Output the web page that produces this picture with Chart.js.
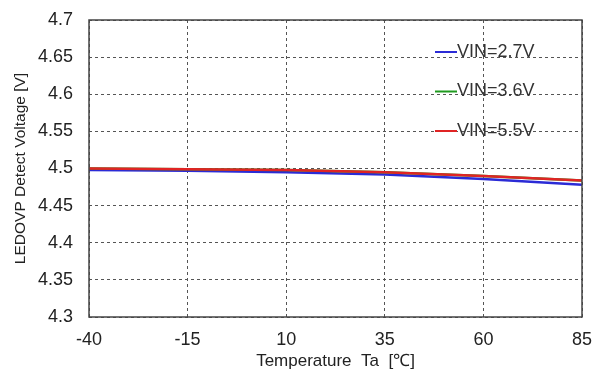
<!DOCTYPE html>
<html>
<head>
<meta charset="utf-8">
<script src="https://cdn.jsdelivr.net/npm/chart.js@4/dist/chart.umd.min.js"></script>
<style>
  html, body { margin: 0; padding: 0; background: #fff; }
  #wrap { width: 596px; height: 376px; }
</style>
</head>
<body>
<div id="wrap"><canvas id="chart"></canvas></div>
<script>
// temperature points (x) and detect voltage for each VIN
const temps = [-40, -15, 10, 35, 60, 85];
const vin27 = [4.498, 4.497, 4.495, 4.492, 4.486, 4.478];
const vin36 = [4.500, 4.499, 4.498, 4.495, 4.490, 4.484];
const vin55 = [4.500, 4.499, 4.498, 4.495, 4.490, 4.484];
const seriesLabels = ['VIN=2.7V', 'VIN=3.6V', 'VIN=5.5V'];
const seriesColors = ['#2b2bd6', '#1f9a1f', '#e02424'];

const FONT = 'Liberation Sans, Arial, sans-serif';

const toPoints = (vals) => temps.map((t, i) => ({ x: t, y: vals[i] }));

// box round the plot area
const frame = {
  id: 'frame',
  afterDatasetsDraw(chart) {
    const { ctx, chartArea: a } = chart;
    ctx.save();
    ctx.strokeStyle = '#444';
    ctx.lineWidth = 1.5;
    ctx.strokeRect(a.left, a.top, a.right - a.left, a.bottom - a.top);
    ctx.restore();
  }
};

// legend drawn inside the plot, top right
const innerLegend = {
  id: 'innerLegend',
  afterDraw(chart) {
    const { ctx, chartArea: a } = chart;
    ctx.save();
    ctx.font = '18px ' + FONT;
    ctx.textBaseline = 'middle';
    chart.data.datasets.forEach((ds, i) => {
      const y = a.top + 32 + i * 39.5;
      const x0 = a.right - 147;
      ctx.strokeStyle = ds.borderColor;
      ctx.lineWidth = 2;
      ctx.beginPath();
      ctx.moveTo(x0, y);
      ctx.lineTo(x0 + 22, y);
      ctx.stroke();
      ctx.fillStyle = '#333';
      ctx.fillText(ds.label, x0 + 22, y);
    });
    ctx.restore();
  }
};

const grid = {
  color: '#555',
  lineWidth: 1,
  drawTicks: false
};

new Chart(document.getElementById('chart'), {
  type: 'line',
  data: {
    datasets: [
      { label: seriesLabels[0], data: toPoints(vin27), borderColor: seriesColors[0], order: 3 },
      { label: seriesLabels[1], data: toPoints(vin36), borderColor: seriesColors[1], order: 2 },
      { label: seriesLabels[2], data: toPoints(vin55), borderColor: seriesColors[2], order: 1 }
    ].map(d => Object.assign(d, { borderWidth: 2.5, pointRadius: 0, tension: 0, fill: false }))
  },
  options: {
    responsive: true,
    maintainAspectRatio: false,
    animation: false,
    layout: { padding: { left: 0, top: 20, right: 14, bottom: 0 } },
    plugins: {
      legend: { display: false },
      tooltip: { enabled: false }
    },
    scales: {
      x: {
        type: 'linear',
        min: -40,
        max: 85,
        afterBuildTicks(scale) {
          scale.ticks = temps.map(v => ({ value: v }));
        },
        afterFit(scale) {
          scale.height = 59;
          scale.paddingRight = 0;
          scale.paddingLeft = 0;
        },
        grid: grid,
        border: { display: false, dash: [3, 3] },
        ticks: { color: '#222', padding: 12, font: { family: FONT, size: 18 } },
        title: {
          display: true,
          text: 'Temperature  Ta  [\u2103]',
          color: '#222',
          padding: { top: 0, bottom: 4 },
          font: { family: FONT, size: 17 }
        }
      },
      y: {
        min: 4.3,
        max: 4.7,
        ticks: {
          stepSize: 0.05,
          color: '#222',
          padding: 16,
          font: { family: FONT, size: 18 },
          callback: v => String(Math.round(v * 100) / 100)
        },
        afterFit(scale) {
          scale.width = 89;
          scale.paddingTop = 0;
          scale.paddingBottom = 0;
        },
        grid: grid,
        border: { display: false, dash: [3, 3] },
        title: {
          display: true,
          text: 'LEDOVP Detect Voltage [V]',
          color: '#222',
          padding: { top: 11, bottom: 0 },
          font: { family: FONT, size: 15.5 }
        }
      }
    }
  },
  plugins: [frame, innerLegend]
});
</script>
</body>
</html>
